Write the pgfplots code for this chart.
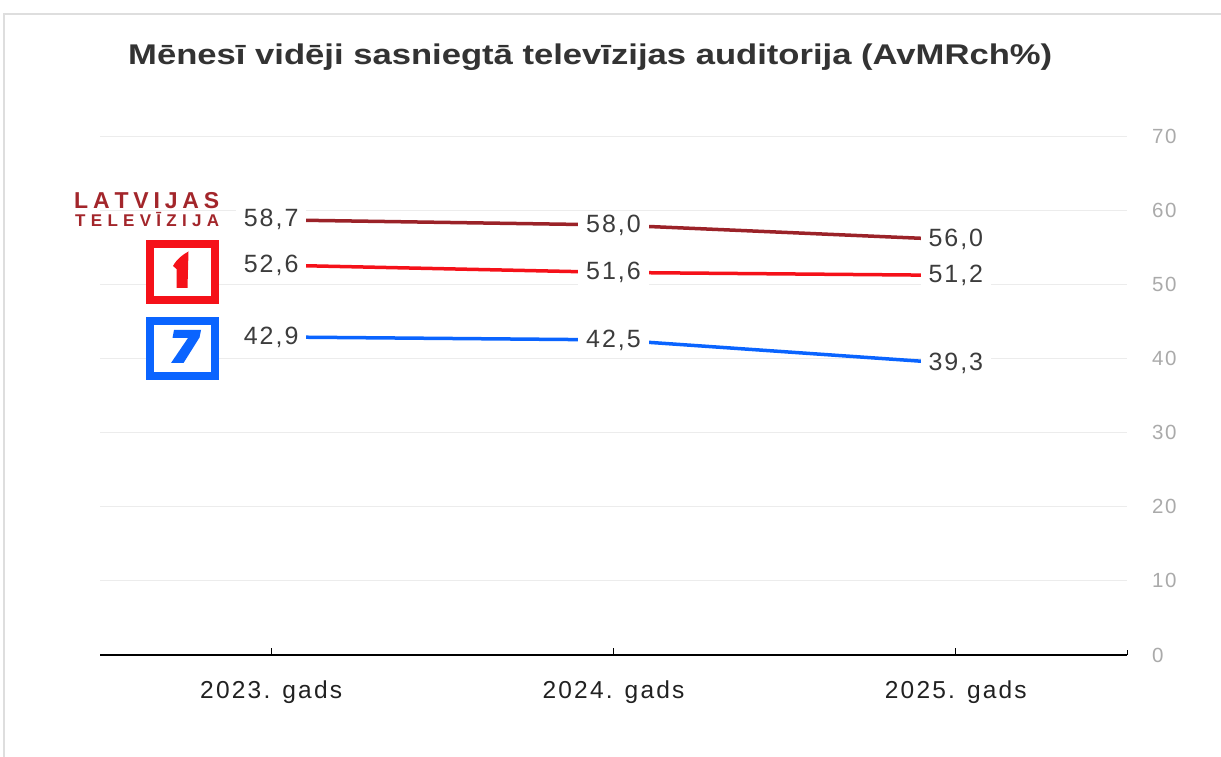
\documentclass[border=0pt]{standalone}
\usepackage{fontspec}
\setmainfont{Liberation Sans}
\usepackage{pgfplots}
\usepackage{pgfplotstable}
\usepackage{graphicx}
\pgfplotsset{compat=1.18}
\newfontfamily\labelfont[LetterSpace=8]{Liberation Sans}
\newfontfamily\tickfont[LetterSpace=9]{Liberation Sans}
\definecolor{ltvdark}{RGB}{155,34,40}
\definecolor{ltvred}{RGB}{245,17,25}
\definecolor{ltvblue}{RGB}{10,100,255}
\definecolor{ltvtext}{RGB}{163,38,43}
\definecolor{lbl}{RGB}{60,60,60}
\definecolor{ytl}{RGB}{170,170,170}
\definecolor{gridc}{RGB}{236,236,236}
\definecolor{framec}{RGB}{222,222,222}
\definecolor{titlec}{RGB}{51,51,51}

\pgfplotstableread{
x y label
0 58.7 58,7
1 58.0 58,0
2 56.0 56,0
}\ltv
\pgfplotstableread{
x y label
0 52.6 52,6
1 51.6 51,6
2 51.2 51,2
}\ltvone
\pgfplotstableread{
x y label
0 42.9 42,9
1 42.5 42,5
2 39.3 39,3
}\ltvseven

\begin{document}
\begin{tikzpicture}
\useasboundingbox (0,0) rectangle (1221pt,756pt);
\fill[white] (0,0) rectangle (1221pt,756pt);
\begin{axis}[
  at={(100pt,101pt)}, anchor=south west,
  scale only axis, width=1027pt, height=519pt,
  clip=false,
  xmin=-0.5, xmax=2.5, ymin=0, ymax=70,
  xtick={0,1,2},
  xticklabels={{2023. gads}, {2024. gads}, {2025. gads}},
  ytick={0,10,...,70},
  axis x line*=bottom, axis y line*=right,
  y axis line style={draw=none},
  x axis line style={black, line width=1.3pt},
  ytick style={draw=none},
  xtick style={black, line width=1pt},
  tick align=inside,
  major tick length=7pt,
  ymajorgrids, grid style={gridc, line width=1pt},
  /pgf/number format/assume math mode=true,
  yticklabel style={anchor=west, inner sep=0pt, xshift=25pt, text=ytl, font=\labelfont\fontsize{20.5}{20.5}\selectfont},
  xticklabel style={anchor=north, inner sep=0pt, yshift=-26pt, text=black!87, font=\tickfont\fontsize{24.5}{24.5}\selectfont},
  extra x ticks={2.5}, extra x tick labels={},
  extra x tick style={major tick length=5pt},
  nodes near coords,
  point meta=explicit symbolic,
  every node near coord/.append style={anchor=center, fill=white, inner xsep=8pt, inner ysep=4pt, text=lbl, font=\labelfont\fontsize{25}{25}\selectfont},
]
\addplot[ltvdark, line width=3.5pt] table[x=x, y=y, meta=label]{\ltv};
\addplot[ltvred, line width=3.5pt] table[x=x, y=y, meta=label]{\ltvone};
\addplot[ltvblue, line width=3.5pt] table[x=x, y=y, meta=label]{\ltvseven};
\end{axis}
\begin{scope}[shift={(0pt,756pt)}, x=1pt, y=-1pt]
  % frame
  \draw[framec, line width=1.5pt] (4,760) -- (4,14) -- (1225,14);
  % title
  \node[anchor=base west, inner sep=0pt, text=titlec, font=\bfseries\fontsize{28.5}{28.5}\selectfont] at (128,65) {\resizebox{924pt}{\height}{Mēnesī vidēji sasniegtā televīzijas auditorija (AvMRch\%)}};
  % LTV logo text
  \node[anchor=base west, inner sep=0pt, text=ltvtext, font=\bfseries\fontsize{23}{23}\selectfont] at (74,209) {\makebox[145pt][s]{L\hfil A\hfil T\hfil V\hfil I\hfil J\hfil A\hfil S}};
  \node[anchor=base west, inner sep=0pt, text=ltvtext, font=\bfseries\fontsize{17}{17}\selectfont] at (75,227) {\makebox[144pt][s]{T\hfil E\hfil L\hfil E\hfil V\hfil Ī\hfil Z\hfil I\hfil J\hfil A}};
  % LTV1 logo
  \draw[ltvred, fill=white, line width=8pt] (150,244) rectangle (215,300);
  \fill[ltvred] (173,266) .. controls (177,259) and (182,255) .. (188.5,251.5) -- (187.5,288) -- (176.5,288) -- (176.5,269) .. controls (175,268) .. (173,266) -- cycle;
  % LTV7 logo
  \draw[ltvblue, fill=white, line width=8pt] (150,321) rectangle (215,376);
  \fill[ltvblue] (174,330) -- (201,330) -- (199.5,337.5) -- (183.5,363) -- (171,363) -- (188,338) -- (172.5,338) -- cycle;
\end{scope}
\end{tikzpicture}
\end{document}
